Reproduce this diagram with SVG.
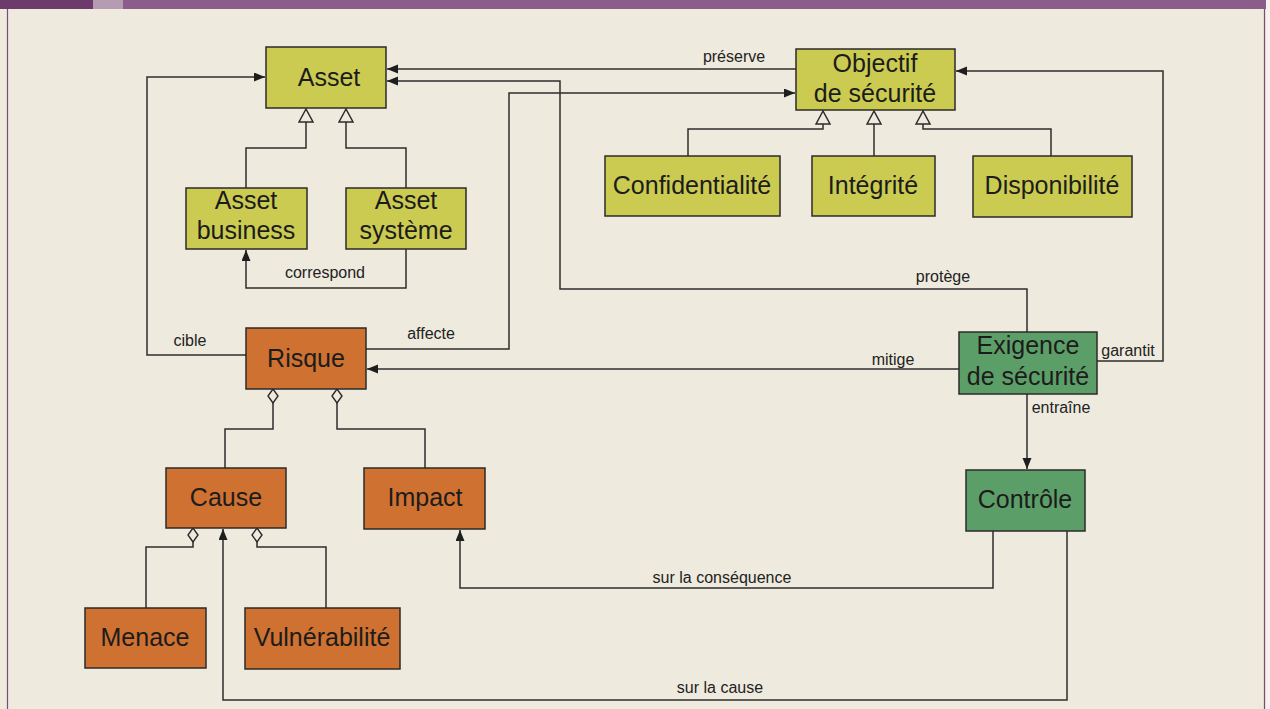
<svg xmlns="http://www.w3.org/2000/svg" width="1270" height="709" viewBox="0 0 1270 709">
  <style>
    .page { fill: #eeeade; }
    .box { stroke: #2b2b2b; stroke-width: 1.5; }
    .asset { fill: #cbcb52; }
    .risk { fill: #cf7131; }
    .req { fill: #5c9e68; }
    .node-text { font-family: "Liberation Sans", Arial, sans-serif; font-size: 25px; fill: #1c1c1c; text-anchor: middle; }
    .link { fill: none; stroke: #2e2e2e; stroke-width: 1.5; }
    .label { font-family: "Liberation Sans", Arial, sans-serif; font-size: 16px; fill: #222; text-anchor: middle; }
  </style>
  <defs>
    <marker id="arrow" markerUnits="userSpaceOnUse" markerWidth="13" markerHeight="10" refX="11" refY="4.5" orient="auto">
      <path d="M0,0 L11,4.5 L0,9 z" fill="#1e1e1e"/>
    </marker>
    <marker id="inherit" markerUnits="userSpaceOnUse" markerWidth="16" markerHeight="18" refX="1" refY="8" orient="auto">
      <path d="M1,1 L14,8 L1,15 z" fill="#eeeade" stroke="#2b2b2b" stroke-width="1.5"/>
    </marker>
    <marker id="aggregate" markerUnits="userSpaceOnUse" markerWidth="18" markerHeight="14" refX="1" refY="6" orient="auto">
      <path d="M1,6 L8,1 L15,6 L8,11 z" fill="#eeeade" stroke="#2b2b2b" stroke-width="1.4"/>
    </marker>
  </defs>

  <!-- page -->
  <rect class="page" x="0" y="0" width="1270" height="709"/>
  <rect x="0" y="0" width="1270" height="9" fill="#8c5d8a"/>
  <rect x="0" y="0" width="93" height="9" fill="#6c3a6b"/>
  <rect x="93" y="0" width="30" height="9" fill="#b59cb3"/>
  <line x1="7.5" y1="9" x2="7.5" y2="709" stroke="#7a4a78" stroke-width="1.2"/>
  <line x1="1264.5" y1="9" x2="1264.5" y2="709" stroke="#7a4a78" stroke-width="1.2"/>
  <rect x="1266" y="0" width="4" height="709" fill="#f6f3ee"/>

  <!-- connectors -->
  <g id="connectors">
    <!-- generalisation of assets -->
    <path class="link" d="M246,188 V148 H306 V122" marker-end="url(#inherit)"/>
    <path class="link" d="M406,188 V148 H346 V122" marker-end="url(#inherit)"/>
    <!-- generalisation of security objectives -->
    <path class="link" d="M688,156 V129 H823 V124" marker-end="url(#inherit)"/>
    <path class="link" d="M874,156 V124" marker-end="url(#inherit)"/>
    <path class="link" d="M1051,156 V129 H923 V124" marker-end="url(#inherit)"/>
    <!-- aggregations -->
    <path class="link" d="M225,468 V429 H273 V403" marker-end="url(#aggregate)"/>
    <path class="link" d="M425,468 V429 H337 V403" marker-end="url(#aggregate)"/>
    <path class="link" d="M146,608 V547 H193 V542" marker-end="url(#aggregate)"/>
    <path class="link" d="M326,608 V547 H257 V542" marker-end="url(#aggregate)"/>
    <!-- associations -->
    <path class="link" d="M406,249 V288 H246 V250" marker-end="url(#arrow)"/>
    <text class="label" x="325" y="278">correspond</text>
    <path class="link" d="M246,355 H147 V77 H265" marker-end="url(#arrow)"/>
    <text class="label" x="190" y="346">cible</text>
    <path class="link" d="M796,69 H387" marker-end="url(#arrow)"/>
    <text class="label" x="734" y="62">préserve</text>
    <path class="link" d="M1027,332 V289 H560 V81 H387" marker-end="url(#arrow)"/>
    <text class="label" x="943" y="282">protège</text>
    <path class="link" d="M366,349 H509 V93 H795" marker-end="url(#arrow)"/>
    <text class="label" x="431" y="339">affecte</text>
    <path class="link" d="M959,369 H367" marker-end="url(#arrow)"/>
    <text class="label" x="893" y="365">mitige</text>
    <path class="link" d="M1097,361 H1163 V71 H956" marker-end="url(#arrow)"/>
    <text class="label" x="1128" y="356">garantit</text>
    <path class="link" d="M1027,394 V469" marker-end="url(#arrow)"/>
    <text class="label" x="1061" y="413">entraîne</text>
    <path class="link" d="M993,531 V588 H460 V530" marker-end="url(#arrow)"/>
    <text class="label" x="722" y="583">sur la conséquence</text>
    <path class="link" d="M1067,531 V700 H223 V529" marker-end="url(#arrow)"/>
    <text class="label" x="720" y="693">sur la cause</text>
  </g>

  <!-- assets and objectives -->
  <g id="asset">
    <rect class="box asset" x="266" y="47" width="120" height="61"/>
    <text class="node-text" x="329" y="86">Asset</text>
  </g>
  <g id="asset-business">
    <rect class="box asset" x="186" y="188" width="121" height="61"/>
    <text class="node-text" x="246" y="209">Asset</text>
    <text class="node-text" x="246" y="239">business</text>
  </g>
  <g id="asset-systeme">
    <rect class="box asset" x="346" y="188" width="120" height="61"/>
    <text class="node-text" x="406" y="209">Asset</text>
    <text class="node-text" x="406" y="239">système</text>
  </g>
  <g id="objectif">
    <rect class="box asset" x="796" y="49" width="159" height="61"/>
    <text class="node-text" x="875" y="72">Objectif</text>
    <text class="node-text" x="875" y="102">de sécurité</text>
  </g>
  <g id="confidentialite">
    <rect class="box asset" x="605" y="156" width="175" height="60"/>
    <text class="node-text" x="692" y="194">Confidentialité</text>
  </g>
  <g id="integrite">
    <rect class="box asset" x="812" y="156" width="123" height="60"/>
    <text class="node-text" x="873" y="194">Intégrité</text>
  </g>
  <g id="disponibilite">
    <rect class="box asset" x="973" y="156" width="159" height="61"/>
    <text class="node-text" x="1052" y="194">Disponibilité</text>
  </g>

  <!-- risk side -->
  <g id="risque">
    <rect class="box risk" x="246" y="328" width="120" height="61"/>
    <text class="node-text" x="306" y="367">Risque</text>
  </g>
  <g id="cause">
    <rect class="box risk" x="166" y="468" width="120" height="60"/>
    <text class="node-text" x="226" y="506">Cause</text>
  </g>
  <g id="impact">
    <rect class="box risk" x="364" y="468" width="121" height="61"/>
    <text class="node-text" x="425" y="506">Impact</text>
  </g>
  <g id="menace">
    <rect class="box risk" x="85" y="608" width="121" height="60"/>
    <text class="node-text" x="145" y="646">Menace</text>
  </g>
  <g id="vulnerabilite">
    <rect class="box risk" x="245" y="608" width="155" height="61"/>
    <text class="node-text" x="322" y="646">Vulnérabilité</text>
  </g>

  <!-- requirements -->
  <g id="exigence">
    <rect class="box req" x="959" y="332" width="138" height="62"/>
    <text class="node-text" x="1028" y="354">Exigence</text>
    <text class="node-text" x="1028" y="385">de sécurité</text>
  </g>
  <g id="controle">
    <rect class="box req" x="966" y="470" width="119" height="61"/>
    <text class="node-text" x="1025" y="508">Contrôle</text>
  </g>
</svg>
